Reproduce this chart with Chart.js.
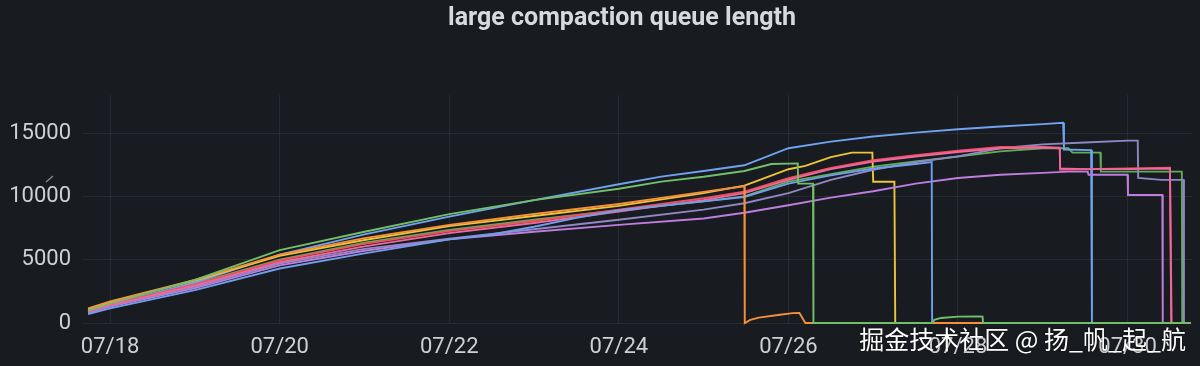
<!DOCTYPE html>
<html><head><meta charset="utf-8">
<script src="https://cdn.jsdelivr.net/npm/chart.js"></script>
<style>
html,body{margin:0;padding:0;background:#181b1f;}
#wrap{position:relative;width:1200px;height:366px;overflow:hidden;background:#181b1f;}
#title{position:absolute;left:0;width:1244px;top:2px;text-align:center;font-family:Roboto,sans-serif;font-weight:bold;font-size:25px;color:#d8d9dc;}
#wm{position:absolute;right:14px;top:320px;font-family:"Noto Sans CJK SC",sans-serif;font-size:25px;color:#ffffff;white-space:pre;text-shadow:0 0 2px rgba(0,0,0,0.6);}
#mark{position:absolute;left:0;top:0;}
canvas{position:absolute;left:0;top:0;}
</style></head>
<body>
<div id="wrap">
<canvas id="c" width="1200" height="366"></canvas>
<div id="title">large compaction queue length</div>
<svg id="mark" width="60" height="200"><polyline points="53,176 46,182" stroke="#8a8c90" stroke-width="1.3" fill="none"/></svg>
<div id="wm">掘金技术社区 @ 扬_帆_起_航</div>
</div>
<script>
// x values are days of July (e.g. 18 = 07/18 00:00)
const xTicks = [18, 20, 22, 24, 26, 28, 30];
const xTickLabels = ['07/18', '07/20', '07/22', '07/24', '07/26', '07/28', '07/30'];
const yTicks = [0, 5000, 10000, 15000];
const yTickLabels = ['0', '5000', '10000', '15000'];

const greenA = [[17.74,1000],[18,1550],[19,3400],[20,5750],[21,7200],[22,8600],[23,9700],[24,10600],[24.5,11160],[25,11550],[25.48,12000],[25.8,12550],[26.11,12600],[26.115,11000],[26.29,11000],[26.295,0],[27.7,0],[27.72,250],[27.8,400],[28,500],[28.25,520],[28.29,500],[28.295,0],[30.74,0]];
const orange = [[17.74,1150],[18,1700],[19,3400],[20,5400],[21,6700],[22,7750],[23,8600],[24,9400],[25,10350],[25.48,10800],[25.485,0],[25.55,250],[25.65,420],[25.9,650],[26.05,780],[26.13,790],[26.2,0],[30.74,0]];
const blue2 = [[17.74,700],[18,1150],[19,2600],[20,4300],[21,5500],[22,6600],[22.5,7000],[23,7600],[23.5,8300],[24,8900],[25,9600],[25.48,9950],[26,11000],[26.5,11650],[27,12200],[27.5,12550],[27.69,12700],[27.695,0],[30.74,0]];
const pink = [[17.74,900],[18,1400],[19,2950],[20,4800],[21,6050],[22,7100],[23,7900],[24,8800],[25,9700],[25.48,10250],[26,11300],[26.5,12150],[27,12750],[27.5,13150],[28,13500],[28.5,13800],[29,13850],[29.2,13800],[29.205,12200],[29.5,12150],[30,12150],[30.5,12200],[30.515,0],[30.74,0]];
const red = [[17.74,950],[18,1450],[19,3050],[20,4950],[21,6250],[22,7250],[23,8050],[24,8950],[25,9850],[25.48,10370],[26,11430],[26.5,12250],[27,12850],[27.5,13250],[28,13600],[28.5,13900],[29,13900],[29.2,13850],[29.205,12100],[30,12200],[30.5,12250],[30.52,0],[30.74,0]];
const slate = [[17.74,850],[18,1350],[19,2850],[20,4700],[21,5850],[22,6650],[23,7400],[24,8150],[25,8950],[25.48,9450],[26,10250],[26.5,11300],[27,12100],[27.5,12700],[28,13150],[28.5,13800],[29,14100],[29.5,14250],[30,14400],[30.12,14400],[30.125,11450],[30.4,11300],[30.66,11300],[30.665,0],[30.74,0]];
const purple = [[17.74,800],[18,1300],[19,2750],[20,4550],[21,5700],[22,6600],[23,7200],[24,7750],[25,8250],[25.48,8700],[26,9300],[26.5,9900],[27,10400],[27.5,11000],[28,11450],[28.5,11700],[29,11850],[29.3,11950],[29.53,11950],[29.54,11700],[30,11700],[30.005,10100],[30.41,10100],[30.415,0],[30.74,0]];
const yellow = [[17.74,1100],[18,1650],[19,3350],[20,5300],[21,6550],[22,7650],[23,8450],[24,9250],[25,10250],[25.48,10850],[25.6,11150],[26,12140],[26.2,12400],[26.5,13100],[26.75,13450],[26.99,13450],[27,11150],[27.25,11150],[27.26,0],[30.74,0]];
const blue = [[17.74,850],[18,1400],[19,3200],[20,5400],[21,7000],[22,8400],[23,9700],[24,10950],[24.5,11560],[25,12000],[25.48,12450],[26,13800],[26.5,14320],[27,14720],[27.5,15030],[28,15300],[28.5,15510],[29,15700],[29.24,15800],[29.25,13700],[29.57,13650],[29.58,0],[30.74,0]];
const greenB = [[17.74,950],[18,1500],[19,3100],[20,5000],[21,6350],[22,7350],[23,8150],[24,8900],[25,9600],[25.48,10000],[26,11160],[26.5,11750],[27,12350],[27.5,12750],[28,13150],[28.5,13550],[29,13800],[29.3,13800],[29.35,13450],[29.68,13450],[29.685,11950],[30.64,11950],[30.645,0],[30.74,0]];

const series = [
  {data: greenA, color: '#73bf69'},
  {data: orange, color: '#f5903a'},
  {data: blue2,  color: '#6f9fec'},
  {data: pink,   color: '#ea6aa0'},
  {data: red,    color: '#f0505e'},
  {data: slate,  color: '#8f88c4'},
  {data: purple, color: '#bf7de0'},
  {data: yellow, color: '#eec43c'},
  {data: blue,   color: '#6fa2ef'},
  {data: greenB, color: '#5fae55'}
];

const textColor = '#cfd0d6';
const gridColor = 'rgba(204,204,220,0.09)';

new Chart(document.getElementById('c'), {
  type: 'line',
  data: {
    datasets: series.map(s => ({
      data: s.data.map(p => ({x: p[0], y: p[1]})),
      borderColor: s.color,
      backgroundColor: s.color,
      borderWidth: 1.9,
      pointRadius: 0,
      tension: 0,
      fill: false,
      clip: 4
    }))
  },
  options: {
    responsive: false,
    animation: false,
    devicePixelRatio: 1,
    layout: {padding: {top: 95, right: 8, left: 0, bottom: 0}},
    plugins: {legend: {display: false}, tooltip: {enabled: false}, title: {display: false}},
    scales: {
      x: {
        type: 'linear', min: 17.68, max: 30.76,
        afterBuildTicks: s => { s.ticks = xTicks.map(v => ({value: v})); },
        afterFit: s => { s.height = 43; },
        ticks: {
          callback: (v) => { const i = xTicks.indexOf(v); return i >= 0 ? xTickLabels[i] : ''; },
          color: textColor, font: {family: 'Roboto', size: 22}, padding: 11,
          maxRotation: 0, autoSkip: false
        },
        grid: {color: gridColor, drawTicks: false},
        border: {display: false}
      },
      y: {
        min: 0, max: 18000,
        afterBuildTicks: s => { s.ticks = yTicks.map(v => ({value: v})); },
        afterFit: s => { s.width = 83; },
        ticks: {
          callback: (v) => { const i = yTicks.indexOf(v); return i >= 0 ? yTickLabels[i] : ''; },
          color: textColor, font: {family: 'Roboto', size: 22}, padding: 12
        },
        grid: {color: gridColor, drawTicks: false},
        border: {display: false}
      }
    }
  }
});
</script>
</body></html>
